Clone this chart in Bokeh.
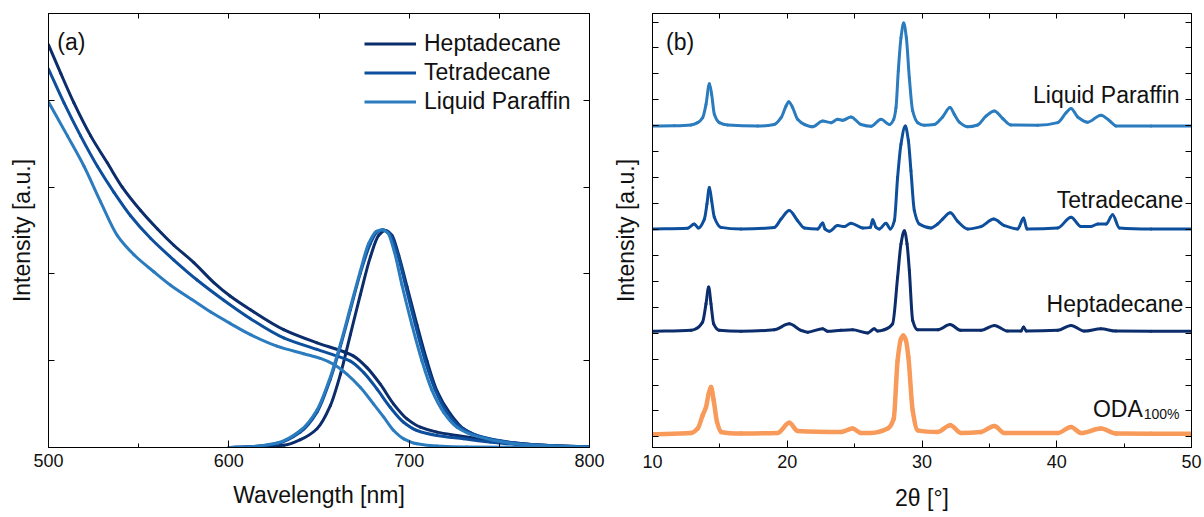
from bokeh.plotting import figure
from bokeh.layouts import row
from bokeh.models import Range1d, FixedTicker, LinearAxis, Label, Legend, LegendItem
from bokeh.embed import file_html
from bokeh.resources import INLINE

FONT = "Liberation Sans"
HEP_C = "#0b2d6b"
TET_C = "#0d4f9c"
LP_C = "#2b7bbf"
ODA_C = "#f89a5a"

# ---------------- panel (a): absorption + PL ----------------
series_names = ["Heptadecane", "Tetradecane", "Liquid Paraffin"]

abs_wl_hep = [500, 506.8, 514.1, 523.4, 532.6, 540.9, 551.1, 560.3, 569.5, 580.6, 591.7, 600.7, 612.0,
              630.4, 648.9, 663.7, 669.2, 676.6, 684.0, 691.4, 698.8, 706.2, 715.4, 726.5, 741.2, 758.8, 780, 800]
abs_hep = [4.64, 4.31, 3.97, 3.59, 3.28, 3.0, 2.73, 2.52, 2.33, 2.13, 1.90, 1.745, 1.587,
           1.358, 1.206, 1.103, 1.053, 0.92, 0.729, 0.50, 0.329, 0.234, 0.177, 0.139, 0.094, 0.043, 0.02, 0.005]

abs_wl_tet = [500, 508.6, 517.8, 527.1, 536.3, 545.5, 556.6, 569.5, 582.4, 597.0, 612.0, 630.4, 648.9,
              660.0, 667.4, 674.8, 682.2, 689.5, 696.9, 704.3, 715.4, 730.2, 744.9, 758.8, 780, 800]
abs_tet = [4.36, 3.97, 3.59, 3.24, 2.94, 2.67, 2.41, 2.16, 1.93, 1.70, 1.484, 1.263, 1.13,
           1.053, 0.996, 0.863, 0.672, 0.463, 0.291, 0.196, 0.139, 0.101, 0.063, 0.036, 0.015, 0.004]

abs_wl_lp = [500, 510.5, 519.7, 528.9, 538.2, 547.4, 558.4, 567.7, 579.5, 590.0, 600.7, 612.0, 626.7,
             641.5, 650.8, 658.2, 665.6, 673.0, 680.3, 685.9, 691.4, 697.0, 704.3, 715.4, 732.0, 760, 800]
abs_lp = [3.98, 3.59, 3.24, 2.83, 2.44, 2.22, 2.025, 1.87, 1.705, 1.56, 1.43, 1.30, 1.168,
          1.08, 1.026, 0.958, 0.843, 0.691, 0.50, 0.349, 0.196, 0.10, 0.043, 0.017, 0.006, 0.002, 0.0]

pl_wl_hep = [600, 612.0, 630.5, 639.7, 648.9, 656.3, 661.9, 667.4, 672.9, 678.5, 683.1, 686.8, 690.5,
             694.2, 698.8, 704.3, 709.9, 715.4, 722.8, 730.2, 741.2, 758.8, 780, 800]
pl_hep = [0.0, 0.01, 0.025, 0.09, 0.216, 0.482, 0.844, 1.301, 1.758, 2.196, 2.444, 2.501, 2.444,
          2.215, 1.853, 1.415, 0.996, 0.653, 0.387, 0.215, 0.113, 0.052, 0.02, 0.008]

pl_wl_tet = [600, 612.0, 626.8, 639.7, 648.9, 656.3, 661.9, 667.4, 672.9, 678.5, 682.2, 685.5, 689.2,
             693.2, 697.9, 703.4, 708.9, 714.5, 720.9, 728.3, 739.4, 758.8, 780, 800]
pl_tet = [0.0, 0.01, 0.044, 0.177, 0.406, 0.787, 1.168, 1.587, 2.006, 2.349, 2.482, 2.509, 2.463,
          2.254, 1.872, 1.415, 0.996, 0.661, 0.406, 0.234, 0.128, 0.052, 0.02, 0.008]

pl_wl_lp = [600, 612.0, 626.8, 639.7, 648.9, 656.3, 661.9, 667.4, 672.9, 677.5, 681.8, 684.9, 688.1,
            691.8, 696.0, 701.5, 707.1, 712.6, 719.1, 726.5, 737.6, 758.8, 780, 800]
pl_lp = [0.0, 0.01, 0.052, 0.196, 0.433, 0.813, 1.194, 1.613, 2.032, 2.349, 2.49, 2.509, 2.474,
         2.254, 1.872, 1.415, 0.996, 0.661, 0.406, 0.234, 0.128, 0.044, 0.018, 0.006]

# ---------------- panel (b): XRD ----------------
xrd_names = ["ODA", "Heptadecane", "Tetradecane", "Liquid Paraffin"]
xrd_offsets = [0.10, 4.07, 8.02, 11.99]

tt_oda = [10.0, 12.86, 13.35, 13.72, 13.97, 14.17, 14.34, 14.54, 14.79, 15.08, 16.57, 19.29, 20.15, 20.77,
          23.99, 24.85, 25.47, 26.22, 27.45, 27.90, 28.19, 28.44, 28.61, 28.81, 28.99, 29.31, 29.68,
          31.16, 32.10, 32.89, 34.38, 35.37, 36.11, 40.07, 41.06, 41.80, 43.28, 44.40, 47.0, 50.0]
int_oda = [0.0, 0.05, 0.22, 0.73, 1.05, 1.56, 1.82, 1.31, 0.47, 0.09, 0.03, 0.05, 0.44, 0.13,
           0.09, 0.22, 0.05, 0.05, 0.22, 0.60, 2.85, 3.68, 3.81, 3.62, 2.97, 0.92, 0.15,
           0.09, 0.35, 0.05, 0.09, 0.32, 0.05, 0.05, 0.28, 0.05, 0.22, 0.03, 0.02, 0.02]

tt_hep = [10.0, 12.86, 13.23, 13.72, 13.97, 14.17, 14.34, 14.54, 14.96, 16.57, 19.04, 20.15, 21.02, 21.52,
          22.63, 23.00, 23.99, 24.85, 25.97, 26.46, 26.71, 27.20, 27.82, 28.19, 28.44, 28.69, 28.89,
          29.06, 29.31, 29.68, 31.16, 32.08, 32.89, 34.38, 35.37, 36.36, 37.35, 37.54, 37.74, 40.07,
          41.06, 42.05, 43.28, 44.40, 47.0, 50.0]
int_hep = [0.0, 0.04, 0.10, 0.36, 1.06, 1.71, 1.06, 0.29, 0.04, 0.0, 0.06, 0.29, 0.04, -0.03,
           0.10, 0.0, 0.04, 0.06, -0.06, 0.10, 0.01, 0.06, 0.29, 2.09, 3.37, 3.88, 3.37,
           2.35, 0.42, 0.06, 0.06, 0.26, 0.04, 0.04, 0.23, 0.01, 0.01, 0.17, 0.01, 0.04,
           0.23, 0.01, 0.10, 0.01, 0.0, 0.0]

tt_tet = [10.0, 12.61, 13.10, 13.40, 13.85, 14.04, 14.22, 14.39, 14.59, 15.08, 16.57, 19.04, 19.54, 20.15,
          20.77, 21.27, 22.26, 22.63, 22.80, 23.12, 23.74, 24.24, 24.73, 25.60, 26.17, 26.34, 26.59,
          26.83, 27.33, 27.65, 27.95, 28.19, 28.44, 28.76, 28.99, 29.18, 29.43, 29.80, 30.67, 31.16,
          31.53, 32.10, 32.65, 33.39, 34.38, 35.32, 36.11, 37.10, 37.54, 37.79, 40.07, 41.06, 41.80,
          42.54, 43.04, 43.66, 44.15, 44.64, 47.0, 50.0]
int_tet = [0.0, 0.03, 0.19, 0.04, 0.38, 0.96, 1.60, 1.09, 0.45, 0.06, 0.0, 0.06, 0.38, 0.71,
           0.32, 0.04, 0.0, 0.23, 0.0, -0.09, 0.13, 0.09, 0.22, 0.04, 0.06, 0.35, 0.06,
           0.0, 0.22, 0.0, 0.32, 1.99, 3.27, 3.97, 3.40, 2.24, 0.71, 0.19, 0.04, 0.19,
           0.38, 0.62, 0.29, 0.0, 0.09, 0.38, 0.13, 0.0, 0.42, 0.0, 0.04, 0.45, 0.09,
           0.09, 0.19, 0.19, 0.55, 0.04, 0.0, 0.0]

tt_lp = [10.0, 11.62, 12.86, 13.35, 13.72, 13.97, 14.22, 14.39, 14.59, 14.96, 15.58, 17.80, 19.04, 19.54,
         19.91, 20.11, 20.40, 20.77, 21.27, 21.89, 22.63, 23.25, 23.74, 24.11, 24.73, 25.47, 26.22,
         26.96, 27.58, 27.90, 28.07, 28.24, 28.44, 28.64, 28.84, 29.06, 29.31, 29.68, 30.17, 30.92,
         31.53, 32.08, 32.40, 32.77, 33.39, 34.13, 34.75, 35.37, 35.99, 36.60, 38.58, 40.07, 40.69,
         41.06, 41.55, 42.29, 43.28, 44.03, 44.40, 47.0, 50.0]
int_lp = [0.0, 0.01, 0.04, 0.13, 0.32, 0.83, 1.63, 1.22, 0.45, 0.13, 0.04, 0.0, 0.06, 0.32,
          0.77, 0.94, 0.71, 0.26, 0.06, -0.03, 0.19, 0.13, 0.26, 0.22, 0.35, 0.06, -0.01,
          0.26, 0.06, 0.26, 0.71, 2.12, 3.40, 3.97, 3.40, 1.86, 0.58, 0.13, 0.03, 0.06,
          0.35, 0.71, 0.45, 0.15, -0.03, 0.04, 0.38, 0.58, 0.29, 0.04, 0.03, 0.13, 0.51,
          0.68, 0.35, 0.15, 0.42, 0.15, 0.0, 0.0, 0.0]


def smooth_curve(p, xs, ys, color, width):
    """Draw a smooth (shape-preserving cubic) curve through the read points with Bezier segments."""
    n = len(xs)
    h = [xs[i + 1] - xs[i] for i in range(n - 1)]
    d = [(ys[i + 1] - ys[i]) / h[i] for i in range(n - 1)]
    m = [0.0] * n
    m[0] = d[0]
    m[-1] = d[-1]
    for k in range(1, n - 1):
        if d[k - 1] * d[k] <= 0:
            m[k] = 0.0
        else:
            w1 = 2 * h[k] + h[k - 1]
            w2 = h[k] + 2 * h[k - 1]
            m[k] = (w1 + w2) / (w1 / d[k - 1] + w2 / d[k])
    x0 = xs[:-1]
    x1 = xs[1:]
    y0 = ys[:-1]
    y1 = ys[1:]
    cx0 = [x0[i] + h[i] / 3 for i in range(n - 1)]
    cy0 = [y0[i] + m[i] * h[i] / 3 for i in range(n - 1)]
    cx1 = [x1[i] - h[i] / 3 for i in range(n - 1)]
    cy1 = [y1[i] - m[i + 1] * h[i] / 3 for i in range(n - 1)]
    return p.bezier(x0=x0, y0=y0, x1=x1, y1=y1, cx0=cx0, cy0=cy0, cx1=cx1, cy1=cy1,
                    line_color=color, line_width=width, line_cap="round")


def style_axis(ax, tick_in=7, minor_in=4):
    ax.axis_line_color = "black"
    ax.axis_line_width = 1
    ax.major_tick_in = tick_in
    ax.major_tick_out = 0
    ax.minor_tick_in = minor_in
    ax.minor_tick_out = 0
    ax.major_tick_line_color = "black"
    ax.minor_tick_line_color = "black"
    ax.major_label_text_font = FONT
    ax.major_label_text_font_size = "18px"
    ax.major_label_text_color = "#111111"
    ax.axis_label_text_font = FONT
    ax.axis_label_text_font_size = "23px"
    ax.axis_label_text_font_style = "normal"
    ax.axis_label_text_color = "#111111"


def make_fig(width, xr, yr, x_major, x_minor, y_ticks, xlabel, ylabel, mb_left, mb_right, mb_top,
             mb_bottom, xlab_standoff, xaxlab_standoff, yaxlab_standoff):
    p = figure(width=width, height=517, x_range=xr, y_range=yr, output_backend="svg",
               toolbar_location=None, min_border_left=mb_left, min_border_right=mb_right,
               min_border_top=mb_top, min_border_bottom=mb_bottom)
    p.grid.visible = False
    p.outline_line_color = "black"
    p.background_fill_color = "white"
    p.border_fill_color = "white"
    xa = p.xaxis[0]
    xa.ticker = FixedTicker(ticks=x_major, minor_ticks=x_minor)
    xa.axis_label = xlabel
    style_axis(xa)
    xa.major_label_standoff = xlab_standoff
    xa.axis_label_standoff = xaxlab_standoff
    ya = p.yaxis[0]
    ya.ticker = FixedTicker(ticks=[], minor_ticks=y_ticks)
    ya.axis_label = ylabel
    style_axis(ya, tick_in=6, minor_in=6)
    ya.major_label_standoff = 0
    ya.axis_label_standoff = yaxlab_standoff
    top = LinearAxis(ticker=FixedTicker(ticks=[], minor_ticks=sorted(x_major + x_minor)))
    style_axis(top, tick_in=5, minor_in=5)
    top.major_label_standoff = 0
    p.add_layout(top, "above")
    right = LinearAxis(ticker=FixedTicker(ticks=[], minor_ticks=y_ticks))
    style_axis(right, tick_in=6, minor_in=6)
    right.major_label_standoff = 0
    p.add_layout(right, "right")
    return p


# ---------- left figure ----------
p1 = make_fig(608, Range1d(500, 800), Range1d(0, 5),
              [500, 600, 700, 800], [550, 650, 750], [1, 2, 3, 4],
              "Wavelength [nm]", "Intensity [a.u.]", 48, 19, 13, 67, 6, 12, 14)

abs_data = [(abs_wl_hep, abs_hep, HEP_C), (abs_wl_tet, abs_tet, TET_C), (abs_wl_lp, abs_lp, LP_C)]
pl_data = [(pl_wl_hep, pl_hep, HEP_C), (pl_wl_tet, pl_tet, TET_C), (pl_wl_lp, pl_lp, LP_C)]
items = []
for name, (wx, wy, c), (px, py, _) in zip(series_names, abs_data, pl_data):
    smooth_curve(p1, wx, wy, c, 3)
    smooth_curve(p1, px, py, c, 3)
    proxy = p1.line(wx, wy, line_color=c, line_width=3, visible=False)
    items.append(LegendItem(label=name, renderers=[proxy]))

leg = Legend(items=items, location=(316, 331))
leg.label_text_font = FONT
leg.label_text_font_size = "23px"
leg.label_text_color = "#111111"
leg.glyph_width = 52
leg.glyph_height = 29
leg.label_height = 29
leg.spacing = 0
leg.padding = 5
leg.margin = 0
leg.label_standoff = 8
leg.border_line_color = None
leg.background_fill_alpha = 0
leg.inactive_fill_alpha = 0
p1.add_layout(leg)

p1.add_layout(Label(x=504.9, y=4.672, text="(a)", text_font=FONT, text_font_size="23px",
                    text_color="#111111", text_baseline="alphabetic", text_align="left"))

# ---------- right figure ----------
p2 = make_fig(596, Range1d(10, 50), Range1d(-0.41, 16.33),
              [10, 20, 30, 40, 50], [15, 25, 35, 45], list(range(17)),
              "2θ [°]", "Intensity [a.u.]", 44, 13, 12, 70, 7, 14, 14)

xrd = [(tt_oda, int_oda, ODA_C, 4.5), (tt_hep, int_hep, HEP_C, 3),
       (tt_tet, int_tet, TET_C, 3), (tt_lp, int_lp, LP_C, 3)]
for (tx, ty, c, lw), off in zip(xrd, xrd_offsets):
    smooth_curve(p2, tx, [v + off for v in ty], c, lw)

lab_kw = dict(text_font=FONT, text_font_size="23px", text_color="#111111", text_baseline="alphabetic")
p2.add_layout(Label(x=11.0, y=15.23, text="(b)", text_align="left", **lab_kw))
p2.add_layout(Label(x=49.12, y=13.18, text="Liquid Paraffin", text_align="right", **lab_kw))
p2.add_layout(Label(x=49.40, y=9.14, text="Tetradecane", text_align="right", **lab_kw))
p2.add_layout(Label(x=49.40, y=5.13, text="Heptadecane", text_align="right", **lab_kw))
p2.add_layout(Label(x=46.38, y=1.09, text="ODA", text_align="right", **lab_kw))
p2.add_layout(Label(x=46.45, y=0.90, text="100%", text_align="left", text_font=FONT,
                    text_font_size="14px", text_color="#111111", text_baseline="alphabetic"))

layout = row(p1, p2, spacing=0)
open("out.html", "w").write(file_html(layout, INLINE))
